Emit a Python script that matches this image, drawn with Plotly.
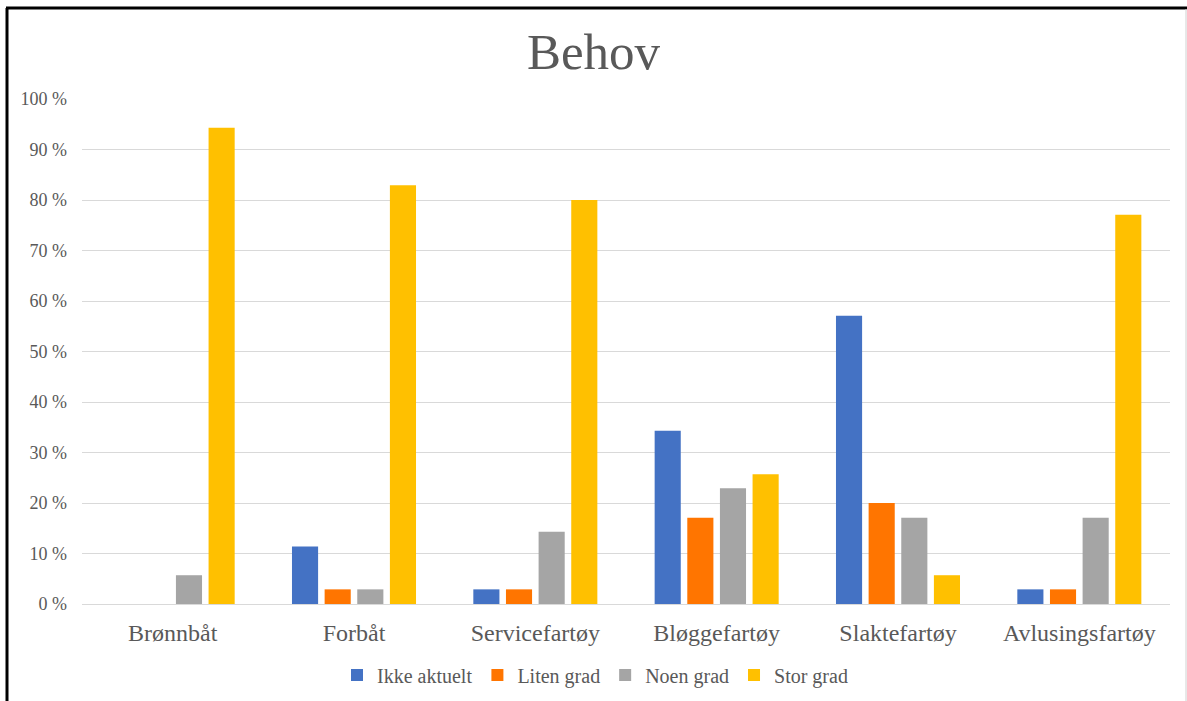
import plotly.graph_objects as go

categories = ["Brønnbåt", "Forbåt", "Servicefartøy", "Bløggefartøy", "Slaktefartøy", "Avlusingsfartøy"]
ikke_aktuelt = [0.0, 11.4, 2.9, 34.3, 57.1, 2.9]
liten_grad = [0.0, 2.9, 2.9, 17.1, 20.0, 2.9]
noen_grad = [5.7, 2.9, 14.3, 22.9, 17.1, 17.1]
stor_grad = [94.3, 82.9, 80.0, 25.7, 5.7, 77.1]
series_names = ["Ikke aktuelt", "Liten grad", "Noen grad", "Stor grad"]
colors = ["#4472C4", "#FF7500", "#A5A5A5", "#FFC000"]
tick_vals = [0, 10, 20, 30, 40, 50, 60, 70, 80, 90, 100]
tick_text = [f"{v} %" for v in tick_vals]

fig = go.Figure()
for name, vals, col in zip(series_names, [ikke_aktuelt, liten_grad, noen_grad, stor_grad], colors):
    fig.add_trace(go.Bar(x=categories, y=vals, name=name, marker_color=col,
                         marker_line_width=0))

L, R, T, B = 82, 17, 99, 97
W, H = 1187, 701
pw, ph = W - L - R, H - T - B

def px_x(p):
    return (p - L) / pw

def px_y(p):
    return (H - B - p) / ph

fig.update_layout(
    width=W, height=H,
    margin=dict(l=L, r=R, t=T, b=B, autoexpand=False),
    paper_bgcolor="white", plot_bgcolor="white",
    barmode="group", bargap=0.28, bargroupgap=0.2,
    font=dict(family="Liberation Serif", color="#595959"),
    title=dict(text="Behov", x=0.5, xanchor="center", y=1 - 51 / H, yanchor="middle",
               font=dict(family="Liberation Serif", size=51, color="#595959")),
    showlegend=True,
    legend=dict(orientation="h", x=px_x(595), xanchor="center", y=px_y(675), yanchor="middle",
                font=dict(family="Liberation Serif", size=20, color="#595959"),
                itemwidth=30, traceorder="normal", itemsizing="constant"),
    xaxis=dict(showgrid=False, showline=True, linecolor="#D9D9D9", linewidth=1,
               automargin=False,
               tickfont=dict(family="Liberation Serif", size=24, color="#595959"),
               ticks="", ticklabelstandoff=7),
    yaxis=dict(range=[0, 100], tickvals=tick_vals, ticktext=tick_text,
               automargin=False,
               showgrid=True, gridcolor="#D9D9D9", gridwidth=1, zeroline=False,
               tickfont=dict(family="Liberation Serif", size=18, color="#595959"),
               ticks="", ticklabelstandoff=14),
    shapes=[
        dict(type="line", xref="paper", yref="paper", x0=px_x(7), x1=px_x(7),
             y0=px_y(8), y1=px_y(705), line=dict(color="black", width=3)),
        dict(type="line", xref="paper", yref="paper", x0=px_x(6), x1=px_x(1190),
             y0=px_y(8), y1=px_y(8), line=dict(color="black", width=3)),
        dict(type="line", xref="paper", yref="paper", x0=px_x(1186), x1=px_x(1186),
             y0=px_y(9), y1=px_y(705), line=dict(color="#D0D0D0", width=1)),
    ],
)

fig.write_html("out.html")
